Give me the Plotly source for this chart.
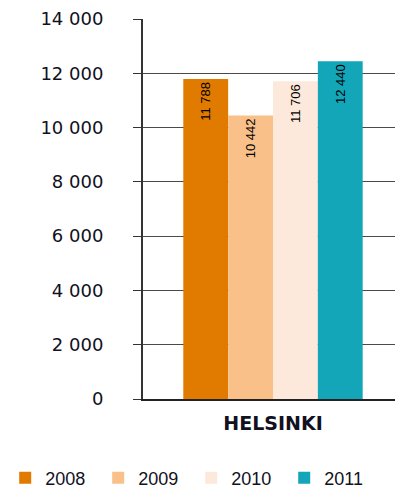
import plotly.graph_objects as go

categories = ["HELSINKI"]
years = ["2008", "2009", "2010", "2011"]
values = [11788, 10442, 11706, 12440]
colors = ["#E07B00", "#F9C189", "#FDE9DB", "#13A6B9"]
tick_vals = [0, 2000, 4000, 6000, 8000, 10000, 12000, 14000]
tick_text = ["0", "2 000", "4 000", "6 000", "8 000", "10 000", "12 000", "14 000"]

fig = go.Figure()
for y, v, c in zip(years, values, colors):
    fig.add_trace(go.Bar(
        x=categories, y=[v], name=y, marker=dict(color=c, line=dict(width=0)),
        text=[f"{v:,}".replace(",", " ")], textposition="inside",
        insidetextanchor="end", textangle=-90,
        textfont=dict(family="Liberation Sans", size=13, color="#000000"),
        cliponaxis=False,
    ))

# page body has an 8px margin; figure sized to fit the 403x492 window
fig.update_layout(
    width=395, height=484,
    margin=dict(l=135, r=0, t=11, b=93, autoexpand=False),
    paper_bgcolor="white", plot_bgcolor="white",
    barmode="group", bargap=0.31, bargroupgap=0,
    showlegend=True,
    legend=dict(orientation="h", x=-0.53, xanchor="left", y=-0.208, yanchor="middle",
                font=dict(family="Liberation Sans, Arial", size=18, color="#111122"),
                entrywidth=48, entrywidthmode="pixels", itemwidth=30,
                tracegroupgap=0, bgcolor="rgba(0,0,0,0)"),
    font=dict(family="Liberation Sans, Arial", color="#111122"),
)
fig.update_yaxes(
    range=[0, 14000], tickvals=tick_vals, ticktext=tick_text,
    showgrid=True, gridcolor="#4a4a4a", gridwidth=1,
    showline=True, linecolor="#333333", linewidth=2,
    ticks="outside", ticklen=8, tickcolor="#333333", tickwidth=1,
    ticklabelstandoff=26,
    tickfont=dict(family="DejaVu Sans, Liberation Sans", size=18, color="#111122"),
    zeroline=False, fixedrange=True,
)
fig.update_xaxes(
    showline=True, linecolor="#222222", linewidth=2,
    ticks="", tickfont=dict(family="DejaVu Sans, Liberation Sans", size=19, color="#111122", weight="bold"),
    ticklabelstandoff=6,
)

fig.write_html("out.html")
